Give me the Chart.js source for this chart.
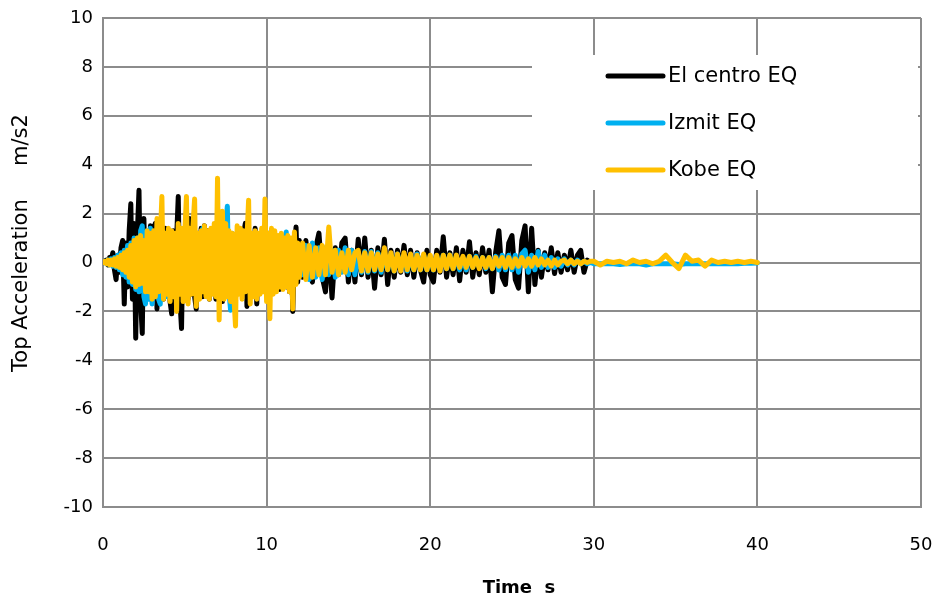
<!DOCTYPE html>
<html>
<head>
<meta charset="utf-8">
<script src="https://cdn.jsdelivr.net/npm/chart.js@4.4.0/dist/chart.umd.min.js"></script>
<style>
html, body { margin: 0; padding: 0; background: #fff; }
</style>
</head>
<body>
<canvas id="quake_chart" width="938" height="605"></canvas>
<script>
const series_labels = ['El centro EQ', 'Izmit EQ', 'Kobe EQ'];
const series_colors = ['#000000', '#00B0F0', '#FFC000'];
const x_ticks = [0, 10, 20, 30, 40, 50];
const y_ticks = [-10, -8, -6, -4, -2, 0, 2, 4, 6, 8, 10];
const x_title = 'Time  s';
const y_title = 'Top Acceleration     m/s2';

// sampling grid: 0.1 s up to 12 s, 0.2 s up to 30 s, 0.4 s up to 40 s
const times = [];
for (let i = 0; i <= 120; i++) times.push(+(i * 0.1).toFixed(1));
for (let i = 1; i <= 90; i++) times.push(+(12 + i * 0.2).toFixed(1));
for (let i = 1; i <= 25; i++) times.push(+(30 + i * 0.4).toFixed(1));

// top acceleration, m/s2
const el_centro = [
    // 0 - 12 s
    0, 0.05, 0.1, -0.1, 0.2, 0.1, 0.4, -0.3, -0.7, 0.3,
    -0.4, 0.6, 0.9, -1.7, 0.8, -1.0, 1.3, 2.4, -1.5, 1.6,
    -3.1, 1.2, 2.95, -1.6, -2.9, 1.8, -1.4, 1.2, -1.3, 1.5,
    -1.2, 1.4, 1.6, -1.9, 1.3, -1.2, 1.1, -1.5, 1.4, -1.3,
    1.2, -1.6, -2.1, 1.3, -1.2, 1.0, 2.7, -1.5, -2.7, 1.3,
    -1.2, 1.4, -1.5, 1.8, -1.3, 1.2, -1.4, -1.9, 1.2, -1.3,
    1.4, -1.4, 1.5, -1.2, 1.3, -1.5, 1.1, -1.2, 1.3, -1.5,
    1.6, -1.3, 1.2, -1.6, 1.4, -1.2, 1.3, -1.3, 1.2, -1.1,
    1.1, -1.5, 1.1, -1.2, 1.0, -1.2, 1.2, 1.6, -1.8, 0.9,
    -1.0, 1.1, -1.2, 1.4, -1.7, 1.1, -1.0, 0.9, -1.1, 1.0,
    -1.0, 1.2, -1.3, 0.9, -0.8, 1.0, -0.9, 1.0, -1.1, 0.8,
    -0.9, 1.0, -1.0, 0.9, -1.2, 0.8, -2.0, 0.5, 1.45, -0.8,
    0.9,
    // 12.2 - 29.6 s
    -0.6, 0.9, -0.5, -0.8, 0.6,
    1.2, -0.6, -1.2, 0.7, -1.45,
    0.6, -0.5, 0.8, 1.0, -0.8,
    0.5, -0.8, 0.95, -0.5, 1.0,
    -0.6, 0.5, -1.05, 0.6, -0.5,
    0.95, -0.9, 0.5, -0.6, 0.5,
    -0.4, 0.7, -0.5, 0.5, -0.6,
    0.4, -0.3, -0.8, 0.5, -0.5,
    -0.8, 0.5, -0.4, 1.05, -0.6,
    0.4, -0.5, 0.6, -0.75, 0.5,
    -0.4, 0.85, -0.6, 0.4, -0.5,
    0.6, -0.4, 0.5, -1.2, 0.4,
    1.3, -0.6, -0.9, 0.8, 1.1,
    -0.7, -1.05, 0.9, 1.5, -1.2,
    1.4, -0.9, 0.5, -0.6, 0.4,
    -0.3, 0.6, -0.45, 0.4, -0.4,
    0.3, -0.3, 0.5, -0.4, 0.3,
    0.5, -0.4, 0.1
];

const izmit = [
    // 0 - 12 s
    0, 0.05, -0.05, 0.1, -0.1, 0.15, -0.15, 0.2, -0.2, 0.3,
    -0.3, 0.4, -0.5, 0.5, -0.6, 0.7, -0.8, 0.8, -0.9, 1.0,
    -1.1, 1.0, -1.2, 1.3, 1.5, -1.4, -1.7, 1.3, -1.5, 1.4,
    -1.7, 1.2, -1.4, 1.3, -1.5, -1.7, 1.0, -1.3, 1.2, -1.4,
    1.1, -1.3, 1.2, -1.2, 0.9, -1.4, 1.0, -1.2, 1.1, -1.3,
    1.0, -1.4, 1.2, -1.1, 1.0, -1.2, 0.9, -1.2, 1.1, -1.0,
    1.2, 1.4, -1.2, 1.0, -1.1, 0.9, -1.0, 1.1, -1.3, 1.2,
    -1.3, 1.4, -1.2, 1.6, -1.1, 1.5, 2.3, -1.2, -1.95, 1.2,
    -1.1, 1.0, -1.0, 0.9, -1.0, 1.1, -1.2, 1.0, -1.1, 0.8,
    -0.9, 1.0, -1.1, 0.9, -0.8, 1.0, -1.1, 0.9, -0.8, 0.9,
    -0.8, 0.7, -0.9, 0.8, -0.7, 0.9, -0.8, 0.7, -0.9, 0.8,
    -1.0, 0.9, 1.25, -0.9, 0.7, -0.8, 0.6, -0.7, 0.7, -0.6,
    0.6,
    // 12.2 - 30 s
    -0.5, 0.7, -0.7, 0.8, -0.6,
    0.6, -0.7, 0.6, -0.5, 0.5,
    -0.6, 0.5, -0.4, 0.6, -0.5,
    0.5, -0.5, 0.4, -0.4, 0.45,
    -0.4, 0.45, -0.35, 0.4, -0.4,
    0.4, -0.3, 0.35, -0.35, 0.35,
    -0.3, 0.3, -0.35, 0.3, -0.3,
    0.35, -0.3, 0.3, -0.3, 0.25,
    -0.3, 0.25, -0.3, 0.3, -0.25,
    0.3, -0.25, 0.25, -0.3, 0.2,
    -0.3, 0.25, -0.2, 0.25, -0.2,
    0.2, -0.25, 0.2, -0.25, 0.25,
    -0.3, 0.3, -0.3, 0.3, -0.3,
    0.3, -0.4, 0.35, 0.5, -0.4,
    0.3, -0.3, 0.45, -0.2, 0.3,
    -0.2, 0.2, -0.2, 0.15, -0.15,
    0.15, -0.1, 0.1, -0.1, 0.1,
    -0.05, 0.05, -0.05, 0.0, -0.05,
    // 30.4 - 40 s
    -0.05, -0.05, -0.05, -0.08, -0.05, -0.05, -0.05, -0.1, -0.05, -0.05,
    -0.05, -0.05, -0.08, -0.05, -0.05, -0.05, -0.05, -0.05, -0.05, -0.05,
    -0.05, -0.05, -0.03, -0.03, -0.02
];

const kobe = [
    // 0 - 12 s
    0, 0.05, -0.05, 0.1, -0.1, 0.1, -0.1, 0.15, -0.15, 0.2,
    -0.2, 0.3, -0.3, 0.4, -0.4, 0.5, -0.6, 0.7, -0.8, 0.9,
    -1.0, 1.0, -0.9, 1.1, -0.85, 0.9, -1.2, 1.3, -1.2, 1.2,
    -1.5, 1.3, -1.4, 1.8, -1.2, 1.0, 2.7, -1.5, 1.2, -1.3,
    1.4, -1.6, 1.3, -1.4, 1.2, -2.0, 1.6, -1.3, 1.4, -1.6,
    1.2, 2.7, -1.7, 1.4, -1.3, 1.5, 2.6, -1.8, 1.2, -1.5,
    1.3, -1.2, 1.5, -1.4, 1.3, -1.5, 1.4, -1.3, 1.6, -1.4,
    3.45, -2.35, 1.2, 2.1, -1.5, 1.6, -1.4, 1.3, -1.6, 1.2,
    -1.4, -2.6, 1.5, -1.3, 1.4, -1.5, 1.3, -1.2, 1.0, 2.55,
    -1.7, 1.2, -1.4, 1.3, -1.5, 1.2, -1.3, 1.4, -1.2, 2.6,
    -1.6, 1.2, -2.3, 1.4, -1.3, 1.3, -1.2, 1.1, -1.0, 1.2,
    -1.1, 1.0, -1.0, 1.1, -1.2, 1.0, -1.9, 1.25, -0.9, 0.8,
    -0.6,
    // 12.2 - 30 s
    0.8, -0.7, 0.7, -0.6, 0.6,
    -0.5, 0.7, -0.5, 1.45, -0.4,
    0.5, -0.5, 0.4, -0.4, 0.5,
    -0.3, 0.4, 0.5, -0.35, 0.4,
    -0.35, 0.4, -0.3, 0.35, -0.3,
    0.6, -0.3, 0.4, -0.35, 0.35,
    -0.35, 0.4, -0.3, 0.35, -0.3,
    0.3, -0.3, 0.35, -0.3, 0.3,
    -0.3, 0.3, -0.35, 0.3, -0.25,
    0.3, -0.25, 0.3, -0.2, 0.25,
    -0.2, 0.25, -0.2, 0.2, -0.25,
    0.2, -0.2, 0.2, -0.25, 0.2,
    -0.15, 0.2, -0.2, 0.2, -0.2,
    0.15, -0.15, 0.2, -0.15, 0.15,
    -0.15, 0.2, -0.1, 0.15, -0.1,
    0.1, -0.15, 0.1, -0.1, 0.05,
    0.1, -0.05, 0.1, -0.05, 0.05,
    -0.05, 0.05, 0.0, 0.05, 0.05,
    // 30.4 - 40 s
    -0.1, 0.05, 0.0, 0.05, -0.05, 0.1, 0.0, 0.05, -0.05, 0.05,
    0.3, 0.0, -0.25, 0.3, 0.05, 0.1, -0.15, 0.1, 0.0, 0.05,
    0.0, 0.05, 0.0, 0.05, 0.0
];

const grid_color = '#8c8c8c';

function to_points(values) {
    return values.map((v, i) => ({ x: times[i], y: v }));
}

function line_dataset(index, values, order) {
    return {
        label: series_labels[index],
        data: to_points(values),
        borderColor: series_colors[index],
        backgroundColor: series_colors[index],
        borderWidth: 5,
        pointRadius: 0,
        tension: 0,
        borderJoinStyle: 'round',
        borderCapStyle: 'round',
        order: order,
    };
}

// draws the axis titles and the boxed legend
const titles_and_legend = {
    id: 'titles_and_legend',
    afterDraw(chart) {
        const ctx = chart.ctx;
        const area = chart.chartArea;

        ctx.save();
        ctx.fillStyle = '#000';
        ctx.textBaseline = 'middle';
        ctx.textAlign = 'center';
        ctx.font = 'bold 18px "DejaVu Sans"';
        ctx.fillText(x_title, 519, 588);

        ctx.translate(22, 243);
        ctx.rotate(-Math.PI / 2);
        ctx.font = '21px "DejaVu Sans"';
        ctx.fillText(y_title, 0, 0);
        ctx.restore();

        ctx.save();
        ctx.fillStyle = '#fff';
        ctx.fillRect(532, 55, area.right - 3 - 532, 135);
        ctx.font = '21px "DejaVu Sans"';
        ctx.textBaseline = 'middle';
        ctx.textAlign = 'left';
        const rows = [76, 123, 170];
        series_labels.forEach((label, i) => {
            ctx.strokeStyle = series_colors[i];
            ctx.lineWidth = 5;
            ctx.lineCap = 'round';
            ctx.beginPath();
            ctx.moveTo(608, rows[i]);
            ctx.lineTo(663, rows[i]);
            ctx.stroke();
            ctx.fillStyle = '#000';
            ctx.fillText(label, 668, rows[i] + 1);
        });
        ctx.restore();
    }
};

const chart_config = {
    type: 'line',
    data: {
        datasets: [
            line_dataset(0, el_centro, 3),
            line_dataset(1, izmit, 2),
            line_dataset(2, kobe, 1),
        ]
    },
    options: {
        responsive: false,
        animation: false,
        layout: { padding: { top: 18, right: 17, left: 0, bottom: 0 } },
        plugins: {
            legend: { display: false },
            tooltip: { enabled: false },
        },
        scales: {
            x: {
                type: 'linear',
                min: 0,
                max: 50,
                afterBuildTicks: (scale) => { scale.ticks = x_ticks.map(v => ({ value: v })); },
                afterFit: (scale) => {
                    scale.height = 98;
                    scale.paddingLeft = 0;
                    scale.paddingRight = 0;
                },
                grid: { color: grid_color, lineWidth: 2, drawTicks: false },
                border: { color: grid_color, width: 2 },
                ticks: { color: '#000', padding: 28, font: { family: 'DejaVu Sans', size: 18 } },
            },
            y: {
                type: 'linear',
                min: -10,
                max: 10,
                afterBuildTicks: (scale) => { scale.ticks = y_ticks.map(v => ({ value: v })); },
                afterFit: (scale) => {
                    scale.width = 103;
                    scale.paddingTop = 0;
                    scale.paddingBottom = 0;
                },
                grid: { color: grid_color, lineWidth: 2, drawTicks: false },
                border: { color: grid_color, width: 2 },
                ticks: { color: '#000', padding: 10, font: { family: 'DejaVu Sans', size: 18 } },
            },
        },
    },
    plugins: [titles_and_legend],
};

const chart = new Chart(document.getElementById('quake_chart'), chart_config);
</script>
</body>
</html>
